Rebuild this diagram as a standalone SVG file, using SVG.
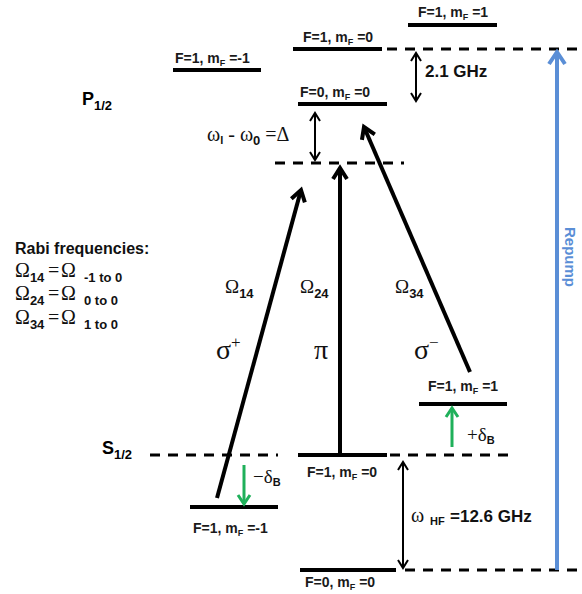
<svg xmlns="http://www.w3.org/2000/svg" width="582" height="594" viewBox="0 0 582 594">
<defs>
<style>
.lvl{stroke:#000;stroke-width:4;fill:none}
.dash{stroke:#000;stroke-width:3;stroke-dasharray:10 8;fill:none}
.lbl{font-family:"Liberation Sans",Arial,sans-serif;font-weight:bold;font-size:14px;fill:#1a1a1a}
.sans{font-family:"Liberation Sans",Arial,sans-serif;font-weight:bold}
.gr{font-family:"Liberation Serif","Times New Roman",serif;fill:#111}
.thick{stroke:#000;stroke-width:4;fill:none}
.thin{stroke:#000;stroke-width:2;fill:none}
.green{stroke:#1fb05a;stroke-width:3;fill:none}
.blue{stroke:#5a8ed6;stroke-width:4;fill:none}
</style>
<marker id="hk" markerUnits="userSpaceOnUse" viewBox="-16 -10 20 20" markerWidth="20" markerHeight="20" refX="0" refY="0" orient="auto-start-reverse" overflow="visible">
<path d="M-11,-7 L0,0 L-11,7" fill="none" stroke="#000" stroke-width="4"/>
</marker>
<marker id="hs" markerUnits="userSpaceOnUse" viewBox="-12 -8 14 16" markerWidth="14" markerHeight="16" refX="0" refY="0" orient="auto-start-reverse" overflow="visible">
<path d="M-8,-5 L0,0 L-8,5" fill="none" stroke="#000" stroke-width="2"/>
</marker>
<marker id="hg" markerUnits="userSpaceOnUse" viewBox="-12 -8 14 16" markerWidth="14" markerHeight="16" refX="0" refY="0" orient="auto" overflow="visible">
<path d="M-9,-6 L0,0 L-9,6" fill="none" stroke="#1fb05a" stroke-width="3"/>
</marker>
<marker id="hb" markerUnits="userSpaceOnUse" viewBox="-16 -10 20 20" markerWidth="20" markerHeight="20" refX="0" refY="0" orient="auto" overflow="visible">
<path d="M-12,-8 L0,0 L-12,8" fill="none" stroke="#5a8ed6" stroke-width="4"/>
</marker>
</defs>
<rect width="582" height="594" fill="#fff"/>

<!-- P1/2 levels -->
<g id="p-f1-mp1">
<line class="lvl" x1="408" y1="25" x2="497" y2="25"/>
<text class="lbl" x="418" y="17">F=1, m<tspan font-size="9" dy="3">F</tspan><tspan dy="-3"> =1</tspan></text>
</g>
<g id="p-f1-m0">
<line class="lvl" x1="293" y1="49" x2="382" y2="49"/>
<line class="dash" x1="387" y1="49" x2="582" y2="49"/>
<text class="lbl" x="303" y="42">F=1, m<tspan font-size="9" dy="3">F</tspan><tspan dy="-3"> =0</tspan></text>
</g>
<g id="p-f1-mm1">
<line class="lvl" x1="173" y1="70" x2="261" y2="70"/>
<text class="lbl" x="175" y="63">F=1, m<tspan font-size="9" dy="3">F</tspan><tspan dy="-3"> =-1</tspan></text>
</g>
<g id="p-f0-m0">
<line class="lvl" x1="298" y1="104" x2="387" y2="104"/>
<text class="lbl" x="300" y="97">F=0, m<tspan font-size="9" dy="3">F</tspan><tspan dy="-3"> =0</tspan></text>
</g>
<g id="p-label">
<text class="sans" font-size="18" x="82" y="105">P<tspan font-size="13" dy="5">1/2</tspan></text>
</g>
<g id="virtual">
<line class="dash" x1="275" y1="163" x2="404" y2="163"/>
</g>

<!-- S1/2 levels -->
<g id="s-label">
<text class="sans" font-size="18" x="102" y="454">S<tspan font-size="13" dy="5">1/2</tspan></text>
</g>
<g id="s-f1-m0">
<line class="dash" x1="150" y1="455" x2="278" y2="455"/>
<line class="lvl" x1="298" y1="455" x2="387" y2="455"/>
<line class="dash" x1="390" y1="455" x2="516" y2="455"/>
<text class="lbl" x="307" y="477">F=1, m<tspan font-size="9" dy="3">F</tspan><tspan dy="-3"> =0</tspan></text>
</g>
<g id="s-f1-mm1">
<line class="lvl" x1="190" y1="507" x2="278" y2="507"/>
<text class="lbl" x="193" y="533">F=1, m<tspan font-size="9" dy="3">F</tspan><tspan dy="-3"> =-1</tspan></text>
</g>
<g id="s-f1-mp1">
<line class="lvl" x1="419" y1="404" x2="507" y2="404"/>
<text class="lbl" x="428" y="391">F=1, m<tspan font-size="9" dy="3">F</tspan><tspan dy="-3"> =1</tspan></text>
</g>
<g id="s-f0-m0">
<line class="lvl" x1="300" y1="570" x2="396" y2="570"/>
<line class="dash" x1="405" y1="570" x2="582" y2="570"/>
<text class="lbl" x="305" y="587">F=0, m<tspan font-size="9" dy="3">F</tspan><tspan dy="-3"> =0</tspan></text>
</g>

<!-- Rabi frequencies legend -->
<g id="rabi-legend">
<text class="sans" font-size="16" x="15" y="254" fill="#111">Rabi frequencies:</text>
<text class="gr" font-size="20" x="15" y="277">Ω<tspan class="sans" font-size="13" dy="5">14</tspan><tspan x="48" dy="-5">=</tspan><tspan x="61">Ω</tspan><tspan class="sans" font-size="13" x="84" dy="5">-1 to 0</tspan></text>
<text class="gr" font-size="20" x="15" y="300">Ω<tspan class="sans" font-size="13" dy="5">24</tspan><tspan x="48" dy="-5">=</tspan><tspan x="61">Ω</tspan><tspan class="sans" font-size="13" x="84" dy="5">0 to 0</tspan></text>
<text class="gr" font-size="20" x="15" y="324">Ω<tspan class="sans" font-size="13" dy="5">34</tspan><tspan x="48" dy="-5">=</tspan><tspan x="61">Ω</tspan><tspan class="sans" font-size="13" x="84" dy="5">1 to 0</tspan></text>
</g>

<!-- connectors -->
<g id="connectors">
<line class="thick" x1="217" y1="498" x2="301" y2="190" marker-end="url(#hk)"/>
<line class="thick" x1="340" y1="453" x2="340" y2="168" marker-end="url(#hk)"/>
<line class="thick" x1="470" y1="372" x2="364" y2="127" marker-end="url(#hk)"/>
<line class="thin" x1="416" y1="53" x2="416" y2="101" marker-start="url(#hs)" marker-end="url(#hs)"/>
<line class="thin" x1="315" y1="113" x2="315" y2="160" marker-start="url(#hs)" marker-end="url(#hs)"/>
<line class="thin" x1="403" y1="462" x2="403" y2="568" marker-start="url(#hs)" marker-end="url(#hs)"/>
<line class="green" x1="244" y1="465" x2="244" y2="504" marker-end="url(#hg)"/>
<line class="green" x1="452" y1="447" x2="452" y2="408" marker-end="url(#hg)"/>
<line class="blue" x1="557" y1="570" x2="557" y2="52" marker-end="url(#hb)"/>

<text class="sans" font-size="17" x="425" y="77" fill="#111">2.1 GHz</text>
<text class="gr" font-size="20" x="207" y="141">ω<tspan class="sans" font-size="11" dy="3">l</tspan><tspan dy="-3"> - ω</tspan><tspan class="sans" font-size="13" dy="4">0</tspan><tspan dy="-4"> =Δ</tspan></text>
<text class="gr" font-size="20" x="411" y="522">ω<tspan class="sans" font-size="11" x="430" dy="3">HF</tspan><tspan class="sans" font-size="17" x="450" dy="-3">=12.6 GHz</tspan></text>

<text class="gr" font-size="19" x="225" y="293">Ω<tspan class="sans" font-size="13" dy="5">14</tspan></text>
<text class="gr" font-size="19" x="300" y="293">Ω<tspan class="sans" font-size="13" dy="5">24</tspan></text>
<text class="gr" font-size="19" x="395" y="293">Ω<tspan class="sans" font-size="13" dy="5">34</tspan></text>

<text class="gr" font-size="28" x="216" y="359">σ<tspan font-size="17" dy="-11">+</tspan></text>
<text class="gr" font-size="28" x="314" y="359">π</text>
<text class="gr" font-size="28" x="414" y="359">σ<tspan font-size="17" dy="-11">−</tspan></text>

<text class="gr" font-size="19" x="253" y="483" fill="#1fb05a">−δ<tspan class="sans" font-size="11" dy="3">B</tspan></text>
<text class="gr" font-size="19" x="467" y="441" fill="#1fb05a">+δ<tspan class="sans" font-size="11" dy="3">B</tspan></text>

<text class="sans" font-size="15" fill="#5a8ed6" text-anchor="middle" transform="translate(565,257) rotate(90)">Repump</text>
</g>
</svg>
